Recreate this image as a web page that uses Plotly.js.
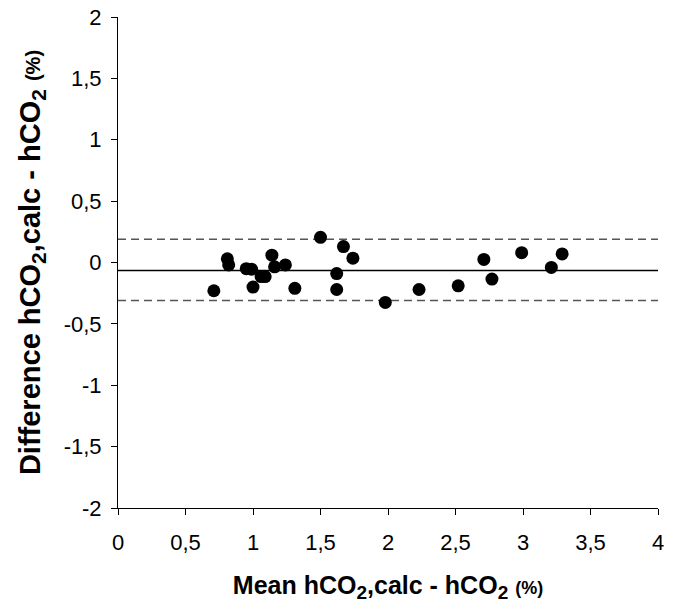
<!DOCTYPE html>
<html><head><meta charset="utf-8">
<script src="https://cdn.plot.ly/plotly-3.0.1.min.js"></script>
<style>body{margin:0;background:#fff}#c{width:677px;height:603px}</style>
</head><body><div id="c"></div>
<script>
const meanX = [0.71,0.81,0.82,0.95,0.99,1.00,1.06,1.09,1.14,1.16,1.24,1.31,1.50,1.67,1.74,1.62,1.62,1.98,2.23,2.52,2.71,2.77,2.99,3.21,3.29];
const diffY = [-0.23,0.03,-0.02,-0.05,-0.055,-0.20,-0.115,-0.115,0.06,-0.035,-0.02,-0.21,0.205,0.13,0.035,-0.09,-0.22,-0.325,-0.22,-0.19,0.025,-0.135,0.08,-0.04,0.07];
const meanDiff = -0.065;
const upperLimit = 0.19;
const lowerLimit = -0.31;
const lineX = [0, 4];
const xTickVals = [0,0.5,1,1.5,2,2.5,3,3.5,4];
const xTickText = ['0','0,5','1','1,5','2','2,5','3','3,5','4'];
const yTickVals = [-2,-1.5,-1,-0.5,0,0.5,1,1.5,2];
const yTickText = ['-2','-1,5','-1','-0,5','0','0,5','1','1,5','2'];

const traces = [
  {x: lineX, y: [upperLimit, upperLimit], mode:'lines', line:{color:'#555', width:1.5, dash:'8px,5px'}, hoverinfo:'skip'},
  {x: lineX, y: [lowerLimit, lowerLimit], mode:'lines', line:{color:'#555', width:1.5, dash:'8px,5px'}, hoverinfo:'skip'},
  {x: lineX, y: [meanDiff, meanDiff], mode:'lines', line:{color:'#000', width:1.3}, hoverinfo:'skip'},
  {x: meanX, y: diffY, mode:'markers', marker:{color:'#000', size:13}}
];
const font = {family:'"Liberation Sans", Arial, sans-serif', color:'#000'};
function title(sub, pct) {
  return 'hCO<sub><span style="font-size:' + sub + 'px">2</span></sub>,calc - hCO<sub><span style="font-size:' + sub + 'px">2</span></sub> <span style="font-size:' + pct + 'px">(%)</span>';
}
const xTitle = '<b>Mean ' + title(19, 18) + '</b>';
const yTitle = '<b>Difference ' + title(21, 20) + '</b>';
const layout = {
  width:677, height:603, showlegend:false,
  paper_bgcolor:'#fff', plot_bgcolor:'#fff',
  margin:{l:118, r:19, t:17, b:95},
  font: Object.assign({size:22}, font),
  xaxis:{range:[0,4], tickvals:xTickVals, ticktext:xTickText, showgrid:false, zeroline:false,
    showline:true, linecolor:'#000', linewidth:1, ticks:'outside', ticklen:6, tickcolor:'#000',
    tickfont:{size:22}, automargin:false, ticklabelstandoff:9,
    title:{text:xTitle, font:{size:25}, standoff:22}},
  yaxis:{range:[-2,2], tickvals:yTickVals, ticktext:yTickText, showgrid:false, zeroline:false,
    showline:true, linecolor:'#000', linewidth:1, ticks:'outside', ticklen:6, tickcolor:'#000',
    tickfont:{size:22}, automargin:false, ticklabelstandoff:5,
    title:{text:yTitle, font:{size:29}, standoff:14}}
};
Plotly.newPlot('c', traces, layout, {displayModeBar:false, staticPlot:true});
</script></body></html>
